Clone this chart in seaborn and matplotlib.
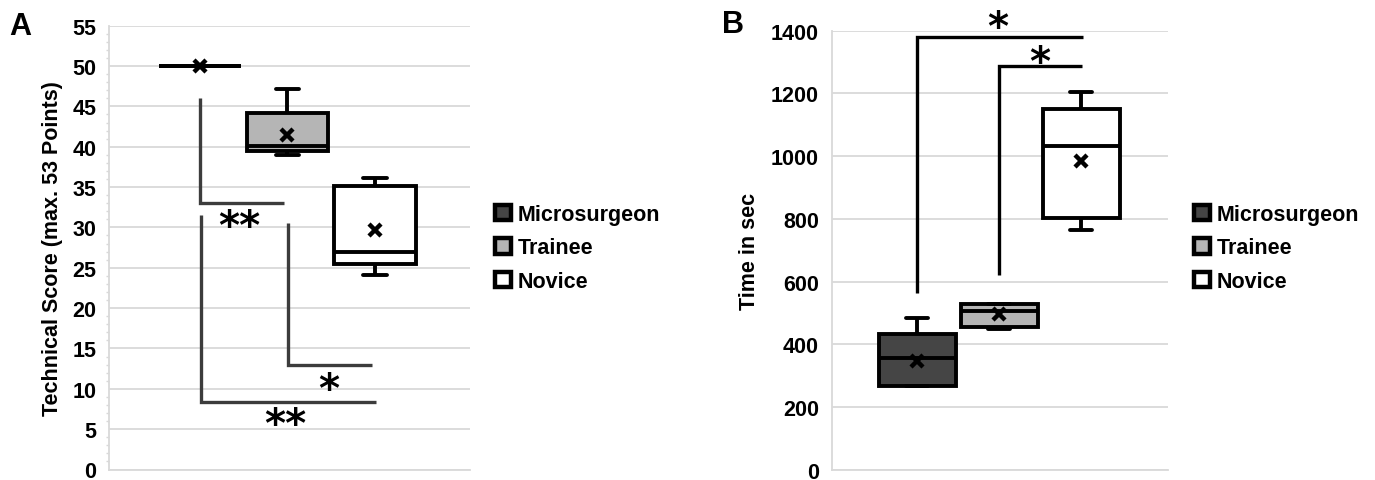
"""
Box plots: technical score and time per experience group
"""

import numpy as np
import pandas as pd
import matplotlib
matplotlib.use('Agg')
import matplotlib.pyplot as plt
from matplotlib.patches import Patch
from matplotlib.ticker import MultipleLocator
import seaborn as sns

# Groups and fills
groups = ['Microsurgeon', 'Trainee', 'Novice']
fills = ['#454545', '#b5b5b5', '#ffffff']

# Panel A - technical score: five-number summary (min, Q1, median, Q3, max) + mean
score_min = [50, 39.0, 24.1]
score_q1 = [50, 39.5, 25.5]
score_med = [50, 40.1, 27.0]
score_q3 = [50, 44.2, 35.1]
score_max = [50, 47.1, 36.1]
score_mean = [50, 41.5, 29.7]

# Panel B - time in sec
time_min = [267, 448, 765]
time_q1 = [267, 455, 802]
time_med = [355, 507, 1031]
time_q3 = [432, 530, 1151]
time_max = [483, 530, 1204]
time_mean = [348, 495, 984]

# Significance brackets: (x path, y path, label, label x, label y)
brackets_a = [
    ([0, 0, 0.96], [46, 33, 33], '**', 0.45, 30.1),
    ([1.01, 1.01, 1.97], [30.6, 12.9, 12.9], '*', 1.47, 9.9),
    ([0.01, 0.01, 2.01], [31.5, 8.4, 8.4], '**', 0.98, 5.5),
]
brackets_b = [
    ([0, 0, 2.02], [562, 1381, 1381], '*', 0.99, 1410),
    ([1, 1, 2.01], [620, 1286, 1286], '*', 1.5, 1297),
]

GRID = '#d9d9d9'
FS = 15.5


def five_num_frame(mins, q1s, meds, q3s, maxs):
    """Long table whose quartiles are exactly the five-number summary"""
    rows = []
    for g, *vals in zip(groups, mins, q1s, meds, q3s, maxs):
        rows += [(g, v) for v in vals]
    return pd.DataFrame(rows, columns=['group', 'value'])


def draw_panel(ax, df, means, brackets, bracket_color, ymax, ystep, width, xlim):
    sns.boxplot(data=df, x='group', y='value', hue='group', order=groups,
                hue_order=groups, palette=dict(zip(groups, fills)),
                saturation=1, width=width, whis=(0, 100), linewidth=2.8,
                linecolor='black', legend=False, capwidths=0.27, ax=ax)
    sns.pointplot(x=groups, y=means, order=groups, color='black', markers='x',
                  linestyle='none', errorbar=None, markersize=9,
                  markeredgewidth=3.2, zorder=6, ax=ax)

    for xs, ys, label, lx, ly in brackets:
        ax.plot(xs, ys, color=bracket_color, lw=2.4, solid_capstyle='butt',
                solid_joinstyle='miter', zorder=4, clip_on=False)
        ax.text(lx, ly, label, ha='center', va='center', fontsize=29,
                family='DejaVu Sans', fontweight='bold', color='black',
                clip_on=False)

    ax.set_xlim(*xlim)
    ax.set_ylim(0, ymax)
    ax.set_xticks([])
    ax.set_xlabel('')
    ax.yaxis.set_major_locator(MultipleLocator(ystep))
    ax.grid(axis='y', color=GRID, lw=1.3)
    ax.grid(axis='x', visible=False)
    ax.set_axisbelow(True)
    for side in ['top', 'right']:
        ax.spines[side].set_visible(False)
    for side in ['left', 'bottom']:
        ax.spines[side].set_color(GRID)
        ax.spines[side].set_linewidth(1.3)
    ax.set_facecolor('white')
    for lab in ax.get_yticklabels():
        lab.set_fontweight('bold')


sns.set_theme(style='white')
plt.rcParams['font.family'] = ['Liberation Sans', 'DejaVu Sans']
plt.rcParams['font.weight'] = 'bold'
plt.rcParams['text.color'] = 'black'
plt.rcParams['axes.labelcolor'] = 'black'

fig = plt.figure(figsize=(13.75, 4.81), dpi=100)
W, H = 1375, 481
axA = fig.add_axes([109 / W, 1 - 470.5 / H, (470 - 109) / W, (470.5 - 26.7) / H])
axB = fig.add_axes([832 / W, 1 - 470.7 / H, (1168 - 832) / W, (470.7 - 31.7) / H])

df_a = five_num_frame(score_min, score_q1, score_med, score_q3, score_max)
df_b = five_num_frame(time_min, time_q1, time_med, time_q3, time_max)

draw_panel(axA, df_a, score_mean, brackets_a, '#3c3c3c', 55, 5, 0.93, (-1.04, 3.086))
draw_panel(axB, df_b, time_mean, brackets_b, 'black', 1400, 200, 0.94, (-1.037, 3.06))

# A: minor ticks every point
axA.yaxis.set_minor_locator(MultipleLocator(1))
axA.tick_params(axis='y', which='major', length=3, color=GRID, pad=6,
                labelsize=FS, labelcolor='black')
axA.tick_params(axis='y', which='minor', length=2.5, color=GRID, left=True)
axB.tick_params(axis='y', which='major', length=0, pad=9.5, labelsize=FS,
                labelcolor='black')

axA.set_ylabel('Technical Score (max. 53 Points)', fontsize=FS, fontweight='bold',
               labelpad=7)
axB.set_ylabel('Time in sec', fontsize=FS, fontweight='bold', labelpad=8)

# Legends
handles = [Patch(facecolor=c, edgecolor='black', linewidth=3.2) for c in fills]
for x0 in [495, 1194]:
    fig.legend(handles, groups, loc='center left', bbox_to_anchor=(x0 / W, 1 - 249 / H),
               frameon=False, handlelength=0.75, handleheight=0.75, handletextpad=0.3,
               labelspacing=0.58, borderpad=0, borderaxespad=0,
               prop={'size': FS, 'weight': 'bold'})

# Panel letters
fig.text(9 / W, 1 - 35 / H, 'A', fontsize=22, fontweight='bold', va='baseline')
fig.text(722 / W, 1 - 33 / H, 'B', fontsize=22, fontweight='bold', va='baseline')

fig.savefig('out.png', dpi=100)
plt.close(fig)
